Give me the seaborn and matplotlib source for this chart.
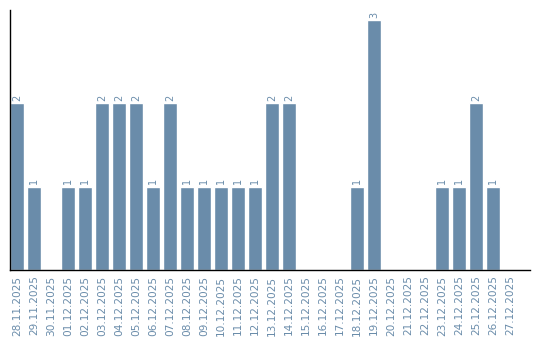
import matplotlib
matplotlib.use("Agg")
import matplotlib.pyplot as plt
import seaborn as sns
import pandas as pd

dates = ["28.11.2025", "29.11.2025", "30.11.2025", "01.12.2025", "02.12.2025",
         "03.12.2025", "04.12.2025", "05.12.2025", "06.12.2025", "07.12.2025",
         "08.12.2025", "09.12.2025", "10.12.2025", "11.12.2025", "12.12.2025",
         "13.12.2025", "14.12.2025", "15.12.2025", "16.12.2025", "17.12.2025",
         "18.12.2025", "19.12.2025", "20.12.2025", "21.12.2025", "22.12.2025",
         "23.12.2025", "24.12.2025", "25.12.2025", "26.12.2025", "27.12.2025"]
counts = [2, 1, 0, 1, 1, 2, 2, 2, 1, 2, 1, 1, 1, 1, 1, 2, 2, 0, 0, 0,
          1, 3, 0, 0, 0, 1, 1, 2, 1, 0]

BAR = "#6a8caa"
sns.set_style("white")
df = pd.DataFrame({"date": dates, "count": counts})

fig = plt.figure(figsize=(5.4, 3.4), dpi=100)
ax = fig.add_axes([10/540, 70/340, 520/540, 260/340])
sns.barplot(data=df, x="date", y="count", color=BAR, saturation=1, width=0.82, ax=ax)

for i, v in enumerate(counts):
    if v > 0:
        ax.text(i, v + 0.03, str(v), rotation=90, ha="center", va="bottom",
                color=BAR, fontsize=7)

ax.set_xlim(-0.41, -0.41 + 520/17)
ax.set_ylim(0, 3.12)
ax.set_xlabel("")
ax.set_ylabel("")
ax.set_yticks([])
ax.tick_params(axis="x", length=0, pad=4, labelsize=7.6, labelcolor=BAR, rotation=90)
for s in ["top", "right"]:
    ax.spines[s].set_visible(False)
for s in ["left", "bottom"]:
    ax.spines[s].set_color("black")
    ax.spines[s].set_linewidth(1)

fig.savefig("out.png", dpi=100)
